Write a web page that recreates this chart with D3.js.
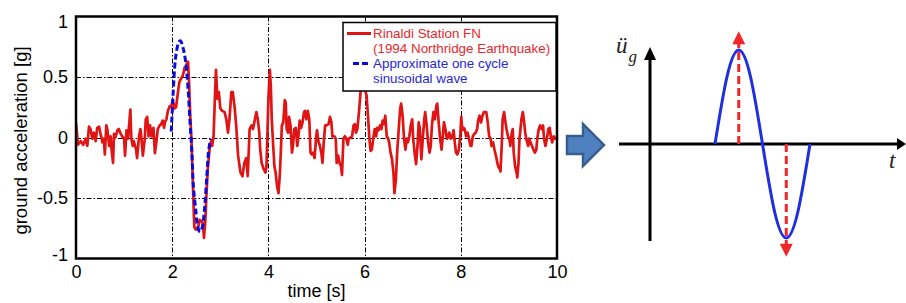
<!DOCTYPE html>
<html>
<head>
<meta charset="utf-8">
<script src="https://cdn.jsdelivr.net/npm/d3@7"></script>
<style>
    body { margin: 0; background: #fff; }
    svg { display: block; }
    text { font-family: "Liberation Sans", Arial, sans-serif; }
</style>
</head>
<body>
<svg width="906" height="303"></svg>
<script>
// Rinaldi Station FN record, [time s, acceleration g]
var rinaldi = [
    [0.00, 0.12], [0.04, -0.06], [0.10, -0.03], [0.15, -0.06], [0.20, -0.01], [0.235, -0.07],
    [0.27, 0.09], [0.30, 0.07], [0.34, -0.01], [0.37, 0.04], [0.41, -0.03], [0.44, 0.08],
    [0.48, 0.09], [0.51, 0.03], [0.55, -0.04], [0.58, -0.01], [0.60, -0.14], [0.63, 0.10],
    [0.65, 0.07], [0.69, -0.07], [0.72, 0.01], [0.74, -0.10], [0.77, -0.21], [0.79, 0.03],
    [0.82, 0.00], [0.86, 0.06], [0.89, 0.07], [0.93, 0.03], [0.96, 0.01], [1.00, -0.01],
    [1.02, -0.15], [1.05, 0.06], [1.08, -0.01], [1.11, 0.13], [1.13, 0.23], [1.15, -0.01],
    [1.18, -0.07], [1.20, -0.03], [1.25, -0.10], [1.27, -0.17], [1.31, 0.01], [1.34, 0.07],
    [1.36, -0.01], [1.39, -0.15], [1.43, -0.01], [1.45, 0.15], [1.48, 0.17], [1.51, 0.01],
    [1.54, 0.10], [1.57, 0.01], [1.61, 0.08], [1.64, -0.13], [1.67, -0.04], [1.70, 0.07],
    [1.74, 0.10], [1.77, 0.11], [1.80, 0.14], [1.83, 0.08], [1.85, 0.13], [1.88, 0.15],
    [1.91, 0.22], [1.95, 0.26], [1.98, 0.25], [2.01, 0.31], [2.05, 0.24], [2.08, 0.25],
    [2.12, 0.375], [2.15, 0.46], [2.19, 0.49], [2.22, 0.51], [2.26, 0.58], [2.28, 0.56],
    [2.31, 0.625], [2.33, 0.625], [2.35, 0.46], [2.375, 0.18], [2.40, -0.01], [2.42, -0.26],
    [2.44, -0.51], [2.46, -0.74], [2.49, -0.76], [2.53, -0.76], [2.57, -0.68], [2.60, -0.69],
    [2.64, -0.71], [2.66, -0.83], [2.69, -0.68], [2.71, -0.49], [2.74, -0.26], [2.78, -0.08],
    [2.81, -0.03], [2.83, -0.07], [2.86, 0.01], [2.89, 0.35], [2.91, 0.56], [2.94, 0.32],
    [2.97, 0.375], [3.00, 0.24], [3.04, 0.22], [3.09, 0.21], [3.125, 0.15], [3.16, 0.04],
    [3.19, 0.15], [3.23, 0.375], [3.26, 0.375], [3.30, 0.24], [3.33, 0.10], [3.37, -0.15],
    [3.42, -0.29], [3.46, -0.32], [3.50, -0.21], [3.54, -0.17], [3.57, -0.32], [3.61, 0.07],
    [3.65, 0.10], [3.68, 0.07], [3.72, 0.15], [3.75, 0.21], [3.78, 0.15], [3.81, 0.04],
    [3.83, -0.10], [3.86, -0.21], [3.90, -0.26], [3.94, -0.29], [3.96, -0.24], [4.00, 0.32],
    [4.03, 0.56], [4.05, 0.43], [4.07, 0.15], [4.10, -0.07], [4.125, -0.24], [4.15, -0.29],
    [4.18, -0.40], [4.21, -0.46], [4.24, -0.29], [4.26, -0.10], [4.28, 0.10], [4.31, 0.125],
    [4.34, 0.31], [4.36, 0.29], [4.38, 0.07], [4.41, 0.04], [4.43, 0.17], [4.46, 0.10],
    [4.49, -0.125], [4.51, -0.07], [4.54, 0.07], [4.57, 0.08], [4.60, -0.07], [4.625, 0.01],
    [4.65, 0.14], [4.68, 0.08], [4.71, 0.125], [4.74, 0.21], [4.76, 0.22], [4.79, 0.15],
    [4.82, 0.22], [4.85, 0.15], [4.875, -0.125], [4.90, -0.14], [4.93, -0.125], [4.96, -0.17],
    [4.99, -0.01], [5.01, 0.06], [5.04, -0.03], [5.07, -0.07], [5.10, -0.125], [5.125, -0.21],
    [5.15, -0.04], [5.18, 0.10], [5.21, 0.10], [5.25, 0.11], [5.28, 0.17], [5.31, 0.125],
    [5.33, 0.01], [5.37, 0.01], [5.40, -0.01], [5.42, -0.21], [5.45, -0.15], [5.48, -0.21],
    [5.51, -0.24], [5.53, -0.31], [5.56, -0.01], [5.59, 0.01], [5.62, -0.01], [5.65, -0.06],
    [5.67, -0.01], [5.71, 0.00], [5.74, 0.01], [5.77, 0.10], [5.80, 0.11], [5.82, 0.04],
    [5.85, 0.07], [5.89, 0.24], [5.92, 0.40], [5.96, 0.51], [5.99, 0.60], [6.01, 0.39],
    [6.04, 0.35], [6.07, 0.18], [6.10, -0.01], [6.125, -0.11], [6.15, -0.10], [6.18, -0.01],
    [6.21, 0.07], [6.24, 0.01], [6.26, 0.08], [6.29, 0.06], [6.32, 0.10], [6.35, 0.07],
    [6.375, 0.14], [6.40, 0.11], [6.43, 0.18], [6.46, 0.01], [6.49, -0.01], [6.51, -0.04],
    [6.54, -0.125], [6.57, -0.18], [6.60, -0.29], [6.62, -0.46], [6.65, -0.35], [6.68, -0.10],
    [6.71, 0.07], [6.74, 0.24], [6.76, 0.28], [6.79, 0.18], [6.82, -0.01], [6.85, -0.10],
    [6.875, -0.01], [6.90, -0.04], [6.93, 0.01], [6.96, 0.10], [6.99, 0.15], [7.01, -0.01],
    [7.04, -0.125], [7.07, -0.22], [7.10, -0.07], [7.125, 0.125], [7.15, 0.07], [7.18, -0.18],
    [7.21, -0.01], [7.24, 0.15], [7.26, 0.21], [7.29, 0.10], [7.32, -0.04], [7.35, -0.125],
    [7.375, -0.07], [7.40, 0.10], [7.43, 0.21], [7.46, 0.15], [7.49, 0.26], [7.51, 0.28],
    [7.54, 0.125], [7.57, -0.01], [7.60, -0.10], [7.625, 0.01], [7.65, 0.125], [7.68, 0.07],
    [7.71, -0.01], [7.74, 0.01], [7.76, 0.04], [7.79, -0.01], [7.82, 0.00], [7.85, 0.06],
    [7.875, -0.04], [7.90, -0.125], [7.93, -0.14], [7.96, -0.10], [7.99, 0.02], [8.01, 0.17],
    [8.03, 0.06], [8.06, 0.08], [8.08, 0.07], [8.11, 0.01], [8.14, 0.04], [8.17, -0.01],
    [8.20, -0.07], [8.22, -0.07], [8.25, 0.01], [8.28, 0.03], [8.31, 0.04], [8.34, 0.07],
    [8.36, 0.14], [8.39, 0.18], [8.42, 0.125], [8.45, 0.18], [8.48, 0.21], [8.50, 0.21],
    [8.53, 0.21], [8.56, 0.125], [8.59, 0.01], [8.62, -0.01], [8.64, -0.07], [8.67, -0.04],
    [8.70, -0.10], [8.73, -0.15], [8.76, -0.21], [8.78, -0.24], [8.81, -0.26], [8.825, -0.28],
    [8.85, -0.07], [8.87, 0.15], [8.90, 0.21], [8.92, 0.15], [8.95, 0.07], [8.98, 0.01],
    [9.01, -0.01], [9.03, -0.07], [9.06, 0.04], [9.08, 0.07], [9.10, -0.125], [9.13, -0.24],
    [9.16, -0.29], [9.175, -0.33], [9.20, -0.21], [9.22, -0.01], [9.24, 0.07], [9.26, 0.15],
    [9.29, 0.21], [9.31, 0.15], [9.34, 0.04], [9.36, -0.01], [9.40, -0.07], [9.42, -0.01],
    [9.45, -0.04], [9.48, -0.07], [9.51, -0.10], [9.54, -0.125], [9.57, -0.10], [9.59, -0.01],
    [9.62, 0.07], [9.65, 0.10], [9.68, 0.07], [9.71, 0.10], [9.73, -0.01], [9.76, -0.07],
    [9.79, -0.01], [9.82, 0.07], [9.85, 0.08], [9.87, 0.01], [9.90, -0.04], [9.93, 0.01],
    [9.96, -0.01], [10.00, 0.00]
];

// approximate one cycle sinusoidal wave (blue dashed)
var sineApprox = [
    [1.98, 0.05], [2.01, 0.29], [2.05, 0.57], [2.08, 0.69], [2.14, 0.79], [2.17, 0.80],
    [2.22, 0.75], [2.28, 0.625], [2.33, 0.40], [2.375, 0.10], [2.41, -0.125], [2.44, -0.40],
    [2.49, -0.60], [2.53, -0.74], [2.58, -0.78], [2.625, -0.74], [2.67, -0.60], [2.72, -0.32],
    [2.76, -0.10], [2.80, -0.01]
];

var xTicks = [0, 2, 4, 6, 8, 10];
var yTicks = [-1, -0.5, 0, 0.5, 1];
var yTickLabels = ["-1", "-0.5", "0", "0.5", "1"];
var legendLines = [
    { label: ["Rinaldi Station FN", "(1994 Northridge Earthquake)"], color: "#e8262b", line: "#e01414", dash: null },
    { label: ["Approximate one cycle", "sinusoidal wave"], color: "#2626d9", line: "#0a0ae0", dash: "6,3" }
];

// right-hand sketch: one cycle, fraction of cycle vs. normalized amplitude
var cycleT = [0, 0.125, 0.25, 0.375, 0.5, 0.625, 0.75, 0.875, 1];
var cycleA = [0, 0.71, 1, 0.71, 0, -0.71, -1, -0.71, 0];
var peakT = [0.25, 0.75];
var peakA = [1.2, -1.2];

var svg = d3.select("svg");

var margin = { left: 76, top: 16.5, right: 557, bottom: 258.5 };
var x = d3.scaleLinear().domain([0, 10]).range([margin.left, margin.right]);
var y = d3.scaleLinear().domain([-1, 1]).range([margin.bottom, margin.top]);

svg.append("clipPath")
    .attr("id", "plotclip")
    .append("rect")
    .attr("x", margin.left)
    .attr("y", margin.top)
    .attr("width", margin.right - margin.left)
    .attr("height", margin.bottom - margin.top);

// grid
var grid = svg.append("g")
    .attr("stroke", "#000")
    .attr("stroke-width", 1)
    .attr("stroke-dasharray", "5,2,1.5,2");
grid.selectAll("line.vx")
    .data(xTicks.slice(1, -1))
    .enter()
    .append("line")
    .attr("x1", (d) => Math.round(x(d)) + 0.5)
    .attr("x2", (d) => Math.round(x(d)) + 0.5)
    .attr("y1", margin.top)
    .attr("y2", margin.bottom);
grid.selectAll("line.hy")
    .data(yTicks.slice(1, -1))
    .enter()
    .append("line")
    .attr("y1", (d) => Math.round(y(d)) + 0.5)
    .attr("y2", (d) => Math.round(y(d)) + 0.5)
    .attr("x1", margin.left)
    .attr("x2", margin.right);

// lines
var line = d3.line()
    .x((d) => x(d[0]))
    .y((d) => y(d[1]));

var plot = svg.append("g").attr("clip-path", "url(#plotclip)");

plot.append("path")
    .datum(rinaldi)
    .attr("d", line)
    .attr("fill", "none")
    .attr("stroke", "#e01414")
    .attr("stroke-width", 2.7)
    .attr("stroke-linejoin", "round");

plot.append("path")
    .datum(sineApprox)
    .attr("d", line.curve(d3.curveCatmullRom))
    .attr("fill", "none")
    .attr("stroke", "#0a0ae0")
    .attr("stroke-width", 3)
    .attr("stroke-dasharray", "6,3");

// axes
var xAxis = svg.append("g")
    .attr("transform", "translate(0," + margin.bottom + ")")
    .call(d3.axisBottom(x).tickValues(xTicks).tickSize(0).tickPadding(7).tickFormat(d3.format("d")));
var yAxis = svg.append("g")
    .attr("transform", "translate(" + margin.left + ",0)")
    .call(d3.axisLeft(y).tickValues(yTicks).tickSize(0).tickPadding(8)
        .tickFormat((d, i) => yTickLabels[i]));
[xAxis, yAxis].forEach((g) => {
    g.select(".domain").remove();
    g.selectAll("text")
        .attr("fill", "#000")
        .style("font-size", "18px")
        .style("font-family", "'Liberation Sans', Arial, sans-serif");
});
// end labels sit a little inside the frame, as in the original
yAxis.selectAll(".tick text")
    .filter((d) => Math.abs(d) === 1)
    .attr("y", (d) => (d > 0 ? 5 : -4));

svg.append("rect")
    .attr("x", margin.left)
    .attr("y", margin.top)
    .attr("width", margin.right - margin.left)
    .attr("height", margin.bottom - margin.top)
    .attr("fill", "none")
    .attr("stroke", "#000")
    .attr("stroke-width", 2.5);

svg.append("text")
    .attr("x", (margin.left + margin.right) / 2)
    .attr("y", 297)
    .attr("text-anchor", "middle")
    .style("font-size", "18px")
    .text("time [s]");

svg.append("text")
    .attr("transform", "translate(27," + (y(0) + 3) + ") rotate(-90)")
    .attr("text-anchor", "middle")
    .style("font-size", "18.5px")
    .text("ground acceleration [g]");

// legend
var legend = svg.append("g");
legend.append("rect")
    .attr("x", 343)
    .attr("y", 22.5)
    .attr("width", 213)
    .attr("height", 68.5)
    .attr("fill", "#fff")
    .attr("stroke", "#000")
    .attr("stroke-width", 1.5);

legendLines.forEach((item, i) => {
    var top = 38 + i * 30;
    legend.append("line")
        .attr("x1", item.dash ? 353 : 347)
        .attr("x2", 371)
        .attr("y1", top - 4.5)
        .attr("y2", top - 4.5)
        .attr("stroke", item.line)
        .attr("stroke-width", 3)
        .attr("stroke-dasharray", item.dash);
    item.label.forEach((txt, j) => {
        legend.append("text")
            .attr("x", 373)
            .attr("y", top + j * 15.3)
            .attr("fill", item.color)
            .style("font-size", "13.4px")
            .text(txt);
    });
});

// block arrow between the panels
svg.append("path")
    .attr("d", "M567,136 L583,136 L583,124 L604,145 L583,166 L583,154 L567,154 Z")
    .attr("fill", "#4f81c0")
    .attr("stroke", "#385e8f")
    .attr("stroke-width", 2.5)
    .attr("stroke-linejoin", "miter");

// right-hand sketch
var xD = d3.scaleLinear().domain([0, 1]).range([715, 810]);
var yD = d3.scaleLinear().domain([-1, 1]).range([238, 50]);
var axisY0 = yD(0),
    axisX0 = 650;

var sketch = svg.append("g");
sketch.append("line")
    .attr("x1", 619).attr("x2", 899)
    .attr("y1", axisY0).attr("y2", axisY0)
    .attr("stroke", "#000").attr("stroke-width", 3);
sketch.append("path")
    .attr("d", "M897," + (axisY0 - 6) + " L906," + axisY0 + " L897," + (axisY0 + 6) + " Z")
    .attr("fill", "#000");
sketch.append("line")
    .attr("x1", axisX0).attr("x2", axisX0)
    .attr("y1", 241).attr("y2", 58)
    .attr("stroke", "#000").attr("stroke-width", 3);
sketch.append("path")
    .attr("d", "M" + (axisX0 - 6) + ",60 L" + axisX0 + ",47 L" + (axisX0 + 6) + ",60 Z")
    .attr("fill", "#000");

sketch.append("path")
    .datum(d3.zip(cycleT, cycleA))
    .attr("d", d3.line().x((d) => xD(d[0])).y((d) => yD(d[1])).curve(d3.curveNatural))
    .attr("fill", "none")
    .attr("stroke", "#1f2ee0")
    .attr("stroke-width", 3);

d3.zip(peakT, peakA).forEach((p) => {
    var px = xD(p[0]),
        tip = yD(p[1]),
        dir = p[1] > 0 ? 1 : -1;
    sketch.append("line")
        .attr("x1", px).attr("x2", px)
        .attr("y1", axisY0).attr("y2", tip + dir * 12)
        .attr("stroke", "#f0262b")
        .attr("stroke-width", 3)
        .attr("stroke-dasharray", "8,4");
    sketch.append("path")
        .attr("d", "M" + (px - 6.5) + "," + (tip + dir * 13) + " L" + px + "," + tip +
            " L" + (px + 6.5) + "," + (tip + dir * 13) + " Z")
        .attr("fill", "#f0262b");
});

var ug = sketch.append("text")
    .attr("x", 616)
    .attr("y", 53)
    .style("font-family", "'Liberation Serif', 'Times New Roman', serif")
    .style("font-style", "italic")
    .style("font-size", "23px")
    .attr("fill", "#222");
ug.append("tspan").text("ü");
ug.append("tspan").attr("dy", 9).attr("dx", 1).style("font-size", "17px").text("g");

sketch.append("text")
    .attr("x", 889)
    .attr("y", 168)
    .style("font-family", "'Liberation Serif', 'Times New Roman', serif")
    .style("font-style", "italic")
    .style("font-size", "23px")
    .attr("fill", "#222")
    .text("t");
</script>
</body>
</html>
